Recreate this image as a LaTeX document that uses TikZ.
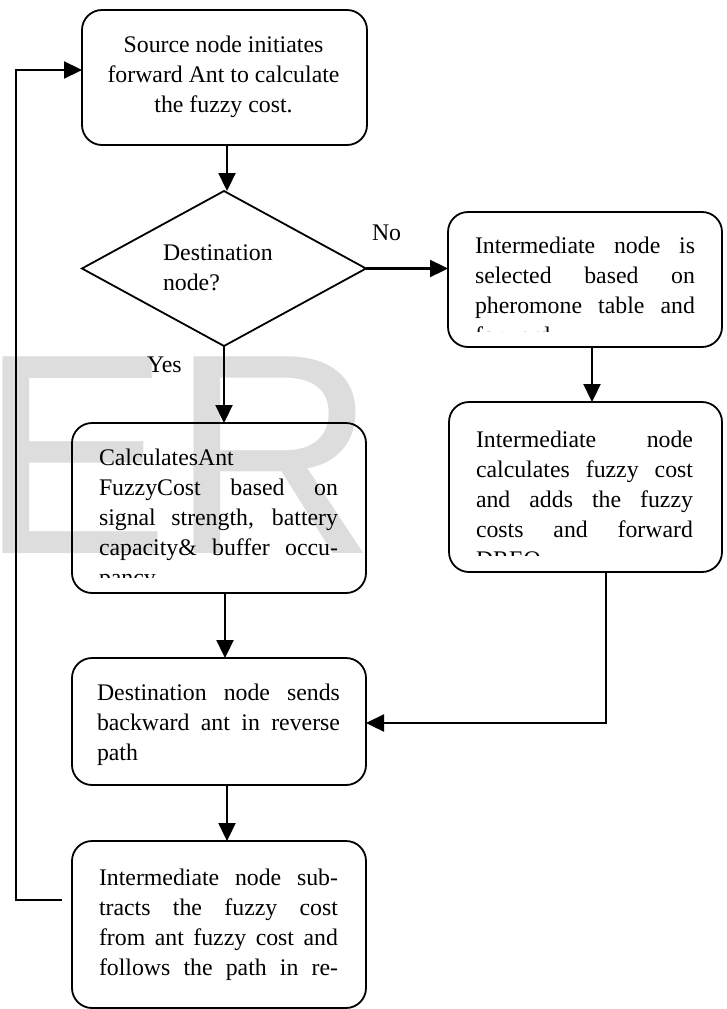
\documentclass[tikz,border=0pt]{standalone}
\usepackage{fontspec}
\setmainfont{Liberation Serif}
\newfontfamily\wmfont{Liberation Sans}
\usetikzlibrary{arrows.meta,shapes.geometric,calc}
\definecolor{wmgray}{RGB}{221,221,221}
\newcommand{\JLine}[1]{\makebox[\linewidth][s]{#1}}
\begin{document}
\begin{tikzpicture}[x=1pt,y=-1pt,
  box/.style={draw, line width=1.8pt, rounded corners=20pt, inner sep=0pt, outer sep=0pt},
  dia/.style={draw, diamond, line width=1.8pt, inner sep=0pt, outer sep=0pt},
  txt/.style={inner sep=0pt, outer sep=0pt, font=\fontsize{23.8}{30}\selectfont},
  wmark/.style={inner sep=0pt, outer sep=0pt, text=wmgray, font=\wmfont\fontsize{286}{300}\selectfont},
  arr/.style={line width=2.3pt, -{Triangle[length=18pt,width=17pt]}},
]
\useasboundingbox (0,0) rectangle (726,1009);

% watermark
\node[wmark, anchor=base west] (wm) at (-20.6,553) {ER};

% shapes
\node[box, minimum width=285pt, minimum height=135pt] (b1) at (224.5,77.5) {};
\node[dia, minimum width=284pt, minimum height=155pt] (dec) at (224,268.5) {};
\node[box, minimum width=274pt, minimum height=135pt] (b2) at (585,279.5) {};
\node[box, minimum width=273pt, minimum height=170pt] (b3) at (585.5,487) {};
\node[box, minimum width=294pt, minimum height=170pt] (b4) at (219,508) {};
\node[box, minimum width=294pt, minimum height=127pt] (b5) at (219,721.5) {};
\node[box, minimum width=294pt, minimum height=167pt] (b6) at (219,924.5) {};

% texts
\node[txt, anchor=base] (t1) at (223.5,52.5) {\parbox[t]{260pt}{\centering Source node initiates\\forward Ant to calculate\\the fuzzy cost.}};
\node[txt, anchor=base west] (t0) at (163,260) {\parbox[t]{150pt}{Destination\\node?}};
\node[txt, anchor=base west] (lno) at (372,240) {No};
\node[txt, anchor=base west] (lyes) at (147,372) {Yes};

\begin{scope}
\clip (449,212) rectangle (722,331);
\node[txt, anchor=base west] (t2) at (475,253.5) {\parbox[t]{220pt}{\JLine{Intermediate node is}\\\JLine{selected based on}\\\JLine{pheromone table and}\\forward}};
\end{scope}
\begin{scope}
\clip (449,402) rectangle (722,555.5);
\node[txt, anchor=base west] (t3) at (476,447.5) {\parbox[t]{217pt}{\JLine{Intermediate node}\\\JLine{calculates fuzzy cost}\\\JLine{and adds the fuzzy}\\\JLine{costs and forward}\\DREQ}};
\end{scope}
\begin{scope}
\clip (72,423) rectangle (366,577.5);
\node[txt, anchor=base west] (t4) at (99,465) {\parbox[t]{239pt}{CalculatesAnt\\\JLine{FuzzyCost based on}\\\JLine{signal strength, battery}\\\JLine{capacity\& buffer occu-}\\pancy}};
\end{scope}
\node[txt, anchor=base west] (t5) at (97,700) {\parbox[t]{243pt}{\JLine{Destination node sends}\\\JLine{backward ant in reverse}\\path}};
\node[txt, anchor=base west] (t6) at (99,885) {\parbox[t]{239pt}{\JLine{Intermediate node sub-}\\\JLine{tracts the fuzzy cost}\\\JLine{from ant fuzzy cost and}\\\JLine{follows the path in re-}}};

% connectors
\draw[arr] ([xshift=2.5pt]b1.south) -- ([xshift=2.5pt]b1.south |- dec.north);
\draw[arr] (dec.east) -- (dec.east -| b2.west);
\draw[arr] ([xshift=7pt]b2.south) -- ([xshift=7pt]b2.south |- b3.north);
\draw[arr] (dec.south) -- (dec.south |- b4.north);
\draw[arr] ([xshift=6pt]b4.south) -- ([xshift=6pt]b4.south |- b5.north);
\draw[arr] ([xshift=8pt]b5.south) -- ([xshift=8pt]b5.south |- b6.north);
\draw[arr] ([xshift=20.5pt]b3.south) |- ([yshift=-1.5pt]b5.east);
\coordinate (fb) at (62,900);
\coordinate (fbc) at (16,900);
\draw[arr] (fb) -- (fbc) |- ([yshift=7.5pt]b1.west);
\end{tikzpicture}
\end{document}
